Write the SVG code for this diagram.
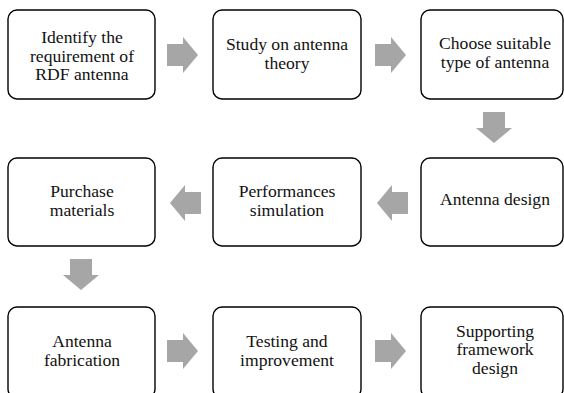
<svg xmlns="http://www.w3.org/2000/svg" width="564" height="393" viewBox="0 0 564 393">
  <style>
    .box { fill: #ffffff; stroke: #000000; stroke-width: 1.4; }
    .lbl { font-family: 'Liberation Serif', 'Times New Roman', serif; font-size: 17.6px; fill: #111111; text-anchor: middle; }
    .arr { fill: #a6a6a6; }
  </style>
  <defs>
    <!-- block arrow pointing right, origin at its left-centre -->
    <path id="arrow-right" d="M0,-11 H16 V-18 L31,0 L16,18 V11 H0 Z"/>
  </defs>
  <rect width="564" height="393" fill="#ffffff"/>

  <g id="connectors" class="arr">
    <use href="#arrow-right" transform="translate(167,55)"/>
    <use href="#arrow-right" transform="translate(375,55)"/>
    <use href="#arrow-right" transform="translate(494,112) rotate(90)"/>
    <use href="#arrow-right" transform="translate(408,203) rotate(180)"/>
    <use href="#arrow-right" transform="translate(201,203) rotate(180)"/>
    <use href="#arrow-right" transform="translate(81,259) rotate(90)"/>
    <use href="#arrow-right" transform="translate(167,351)"/>
    <use href="#arrow-right" transform="translate(375,351)"/>
  </g>

  <g id="n1">
    <rect class="box" x="8" y="10" width="147" height="89" rx="9"/>
    <text class="lbl" x="82" y="43">Identify the</text>
    <text class="lbl" x="82" y="61.5">requirement of</text>
    <text class="lbl" x="82" y="80">RDF antenna</text>
  </g>
  <g id="n2">
    <rect class="box" x="213" y="10" width="148" height="89" rx="9"/>
    <text class="lbl" x="287" y="50">Study on antenna</text>
    <text class="lbl" x="287" y="69">theory</text>
  </g>
  <g id="n3">
    <rect class="box" x="421" y="10" width="142" height="89" rx="9"/>
    <text class="lbl" x="495" y="49">Choose suitable</text>
    <text class="lbl" x="495" y="68">type of antenna</text>
  </g>
  <g id="n4">
    <rect class="box" x="421" y="158" width="142" height="88" rx="9"/>
    <text class="lbl" x="495" y="205">Antenna design</text>
  </g>
  <g id="n5">
    <rect class="box" x="213" y="158" width="148" height="88" rx="9"/>
    <text class="lbl" x="287" y="197">Performances</text>
    <text class="lbl" x="287" y="215.5">simulation</text>
  </g>
  <g id="n6">
    <rect class="box" x="8" y="158" width="147" height="88" rx="9"/>
    <text class="lbl" x="82" y="197">Purchase</text>
    <text class="lbl" x="82" y="215.5">materials</text>
  </g>
  <g id="n7">
    <rect class="box" x="8" y="307" width="147" height="91" rx="9"/>
    <text class="lbl" x="82" y="347">Antenna</text>
    <text class="lbl" x="82" y="366">fabrication</text>
  </g>
  <g id="n8">
    <rect class="box" x="213" y="307" width="148" height="91" rx="9"/>
    <text class="lbl" x="287" y="347">Testing and</text>
    <text class="lbl" x="287" y="366">improvement</text>
  </g>
  <g id="n9">
    <rect class="box" x="421" y="307" width="142" height="91" rx="9"/>
    <text class="lbl" x="495" y="336.5">Supporting</text>
    <text class="lbl" x="495" y="355">framework</text>
    <text class="lbl" x="495" y="373.5">design</text>
  </g>
</svg>
